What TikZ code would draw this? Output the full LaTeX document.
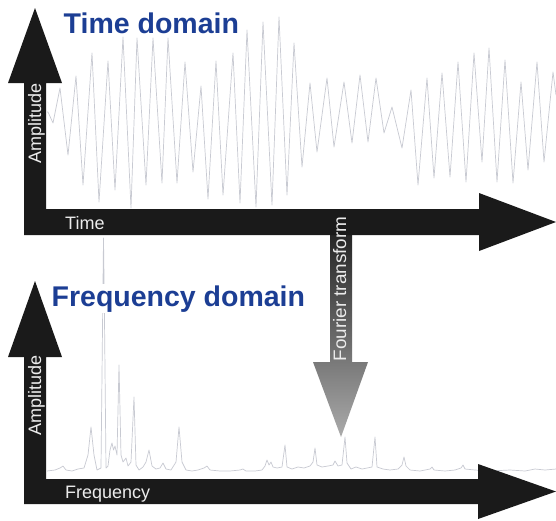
\documentclass[tikz,border=0pt]{standalone}
\usepackage{fontspec}
\setmainfont{Liberation Sans}
\definecolor{titleblue}{RGB}{28,62,148}
\definecolor{axisblack}{RGB}{26,26,26}
\definecolor{wavegray}{RGB}{200,202,210}
\definecolor{labelwhite}{RGB}{236,236,236}
\tikzset{
  axisshape/.style={fill=axisblack, draw=none},
  wave/.style={draw=wavegray, line width=0.7pt, line join=round},
  titletext/.style={font=\bfseries\fontsize{28.5}{30}\selectfont, text=titleblue, fill=white, inner sep=1.5pt},
  axislabel/.style={font=\fontsize{18}{20}\selectfont, text=labelwhite, inner sep=0pt},
}
\begin{document}
\begin{tikzpicture}[x=1pt,y=-1pt]
\useasboundingbox (0,0) rectangle (556,520);
\fill[white] (0,0) rectangle (556,520);

% time-domain waveform
\draw[wave] plot coordinates {(47,112) (48,112) (53,123) (60,88) (68,155) (76,76) (83,185) (92,53) (99,202) (108,61) (115,190) (123,37) (131,208) (137,38) (146,185) (153,38) (162,183) (168,38) (177,183) (185,62) (193,172) (201,86) (208,199) (216,61) (223,195) (233,53) (240,203) (247,30) (256,207) (263,22) (272,205) (279,17) (287,195) (294,43) (302,167) (310,83) (317,152) (327,78) (334,147) (344,82) (352,143) (360,75) (368,142) (376,78) (384,133) (392,107) (402,148) (411,90) (418,185) (427,78) (434,178) (442,73) (450,177) (458,62) (466,182) (474,53) (482,162) (489,48) (497,182) (505,60) (513,183) (521,82) (528,170) (537,62) (544,162) (553,72) (556,95)};

% frequency spectrum
\draw[wave] plot coordinates {(47,471) (55,470) (60,468) (63,466) (66,470) (72,471) (78,469) (84,468) (88,455) (91,427) (94,455) (97,470) (101,468) (102.8,300) (103.5,238) (104.3,300) (106,468) (108,466) (110,450) (112,443) (113.5,450) (115,446) (117,455) (119,365) (121,455) (123,462) (126,458) (128,466) (131,462) (134,397) (136,465) (139,470) (143,467) (146,462) (149,450) (152,466) (156,469) (160,468) (163,463) (166,469) (171,470) (176,462) (179,427) (182,462) (186,470) (192,471) (198,470) (204,468) (207,466) (210,470) (220,471) (230,471) (240,470) (243,469) (246,471) (255,471) (262,470) (265,466) (267,460) (269,465) (271,462) (273,467) (277,468) (282,467) (285,445) (287,467) (292,469) (298,467) (304,468) (310,466) (313,462) (315,448) (317,465) (322,467) (328,466) (333,465) (335,461) (338,466) (342,465) (345,437) (347,463) (351,469) (356,467) (362,469) (367,468) (372,467) (375,437) (377,467) (383,469) (390,470) (398,469) (402,465) (404,457) (406,466) (410,470) (420,471) (430,469) (432,467) (434,470) (445,471) (455,470) (461,468) (463,465) (465,469) (475,470) (490,471) (510,470) (525,471) (535,469) (545,470) (556,469)};

% titles
\node[titletext, anchor=base west] (ttime) at (62,33) {Time domain};
\node[titletext, anchor=base west] (tfreq) at (50,306) {Frequency domain};

% Fourier transform arrow (gradient)
\shade[top color=axisblack!95, bottom color=black!33, shading angle=0]
  (330,235) -- (330,362) -- (313,362) -- (341,437) -- (368,362) -- (352,362) -- (352,235) -- cycle;

% top axes
\path[axisshape] (24,235) -- (24,83) -- (8,83) -- (35,8) -- (62,83) -- (46,83) -- (46,209)
  -- (479,209) -- (479,193) -- (556,222) -- (479,251) -- (479,235) -- cycle;

% bottom axes
\path[axisshape] (24,504) -- (24,357) -- (8,357) -- (35,281) -- (62,357) -- (46,357) -- (46,479)
  -- (478,479) -- (478,464) -- (556,491.5) -- (478,519) -- (478,504) -- cycle;

% axis labels
\node[axislabel, rotate=90, anchor=base] (amp1) at (41,123) {Amplitude};
\node[axislabel, rotate=90, anchor=base] (amp2) at (41,395) {Amplitude};
\node[axislabel, anchor=base west] (ltime) at (65,229) {Time};
\node[axislabel, anchor=base west] (lfreq) at (65,498) {Frequency};
\node[axislabel, rotate=90, anchor=base] (lfour) at (346,289) {\scalebox{1.05}[1]{Fourier transform}};
\end{tikzpicture}
\end{document}
